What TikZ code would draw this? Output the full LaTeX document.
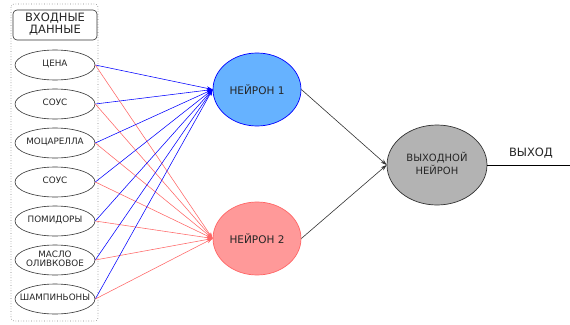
\documentclass[tikz,border=0pt]{standalone}
\usepackage{fontspec}
\setmainfont{DejaVu Sans}
\usetikzlibrary{arrows.meta,shapes.geometric}
\newcommand{\zw}[1]{\makebox[0pt]{\begin{tabular}{@{}c@{}}#1\end{tabular}}}
\definecolor{nblue}{HTML}{66B2FF}
\definecolor{nred}{HTML}{FF9999}
\definecolor{lblue}{HTML}{0000FF}
\definecolor{lred}{HTML}{FF6666}
\definecolor{ngray}{HTML}{B3B3B3}
\begin{document}
\begin{tikzpicture}[x=1pt,y=-1pt,
  inp/.style={ellipse,draw=black!80,line width=0.6pt,minimum width=80pt,minimum height=30pt,inner sep=0pt,
    font=\fontsize{8.8}{9.5}\selectfont,text=black!85},
  neuron/.style={ellipse,line width=0.7pt,minimum width=88pt,minimum height=73pt,inner sep=0pt,
    font=\fontsize{10.5}{11}\selectfont,text=black!85},
  bl/.style={lblue,line width=0.55pt,-{Stealth[length=6pt,width=4pt]}},
  rl/.style={lred,line width=0.55pt,-{Stealth[length=6pt,width=4pt]}},
  kl/.style={black!80,line width=0.6pt,-{Stealth[length=6pt,width=4pt]}}]
\useasboundingbox (0,0) rectangle (570,324);
\fill[white] (0,0) rectangle (570,324);
% container
\draw[gray,dotted,line width=0.6pt,rounded corners=3pt] (11,4) rectangle (98,321);
\node[draw=black!80,line width=0.6pt,rounded corners=4pt,minimum width=84pt,minimum height=30pt,inner sep=0pt,
  font=\fontsize{11.5}{12}\selectfont,text=black!85] (hdr) at (55,25) {\zw{ВХОДНЫЕ\\ДАННЫЕ}};
% inputs
\node[inp] (i1) at (55,65) {\zw{ЦЕНА}};
\node[inp] (i2) at (55,104) {\zw{СОУС}};
\node[inp] (i3) at (55,143) {\zw{МОЦАРЕЛЛА}};
\node[inp] (i4) at (55,182) {\zw{СОУС}};
\node[inp] (i5) at (55,221) {\zw{ПОМИДОРЫ}};
\node[inp] (i6) at (55,260) {\zw{МАСЛО\\ОЛИВКОВОЕ}};
\node[inp] (i7) at (55,299) {\zw{ШАМПИНЬОНЫ}};
% neurons
\node[neuron,draw=lblue,fill=nblue] (n1) at (257,89.5) {НЕЙРОН 1};
\node[neuron,draw=lred,fill=nred] (n2) at (257,238.5) {НЕЙРОН 2};
\node[neuron,draw=black!80,fill=ngray,minimum width=100pt,minimum height=80pt,font=\fontsize{10}{11.5}\selectfont] (out) at (437,165) {\zw{ВЫХОДНОЙ\\НЕЙРОН}};
% connectors
\foreach \i in {1,...,7}{
  \draw[bl] (i\i.east) -- (n1.west);
  \draw[rl] (i\i.east) -- (n2.west);
}
\draw[kl] (n1.east) -- (out.west);
\draw[kl] (n2.east) -- (out.west);
\coordinate (oend) at (570,165);
\draw[black,line width=0.8pt] (out.east) -- (oend);
\node[font=\fontsize{11.5}{12}\selectfont,text=black!85] (olbl) at (531,153) {ВЫХОД};
\end{tikzpicture}
\end{document}
